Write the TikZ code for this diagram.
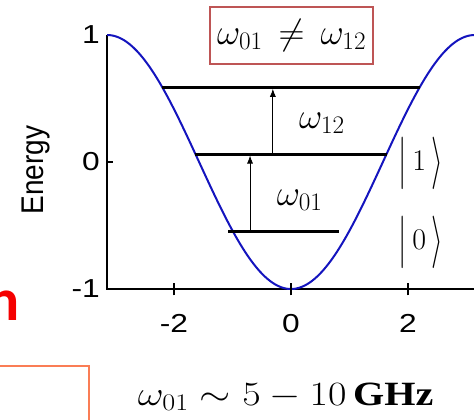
\RequirePackage{fix-cm}
\documentclass[tikz,border=0pt]{standalone}
\usepackage{fontspec}
\usepackage{graphicx}
\setmainfont{Liberation Serif}
\newfontfamily\axisfont{Liberation Sans}
\newfontfamily\slidefont{Carlito}
\usetikzlibrary{arrows.meta}
\definecolor{WellBlue}{RGB}{20,20,190}
\definecolor{BoxRed}{RGB}{190,85,85}
\definecolor{SlideRed}{RGB}{245,0,0}
\definecolor{SlideOrange}{RGB}{250,125,85}
\newcommand{\wide}[1]{\scalebox{1.22}[1]{#1}}
\newcommand{\tall}[1]{\vcenter{\hbox{\scalebox{1}[1.75]{$#1$}}}}
\newcommand{\ketbox}[1]{$\tall{|}\,#1\,\tall{\rangle}$}
\tikzset{
  well/.style={draw=WellBlue,line width=2pt},
  axis/.style={draw=black,line width=2.2pt},
  level/.style={draw=black,line width=3pt},
  trans/.style={draw=black,line width=0.8pt,-{Latex[length=8pt,width=6pt]},shorten >=1.5pt},
  ticklab/.style={font=\axisfont\fontsize{26}{26}\selectfont,inner sep=0pt},
  freqlab/.style={font=\fontsize{36}{36}\selectfont,inner sep=0pt},
  ket/.style={font=\fontsize{30}{30}\selectfont,inner sep=0pt},
  note/.style={draw=BoxRed,line width=1.2pt,minimum width=163pt,minimum height=57pt,
    font=\fontsize{36}{36}\selectfont,inner sep=0pt},
}

\begin{document}
\begin{tikzpicture}[x=58.5pt,y=127pt]
\useasboundingbox (-4.974,-2.0236) rectangle (3.128,1.2756);
\coordinate (o) at (-pi,-1);
\coordinate (ytop) at (-pi,1);
\coordinate (xend) at (3.4,-1);
\draw[axis] (ytop) -- (o) -- (xend);
\draw[well] plot[domain=-pi:pi,samples=150] (\x,{-cos(\x r)});
\foreach \t/\n in {-2/a,0/b,2/c} {
  \draw[axis,line width=1.8pt] (\t,-1.05) -- (\t,-0.95);
  \node[ticklab] (x\n) at (\t,-1.268) {\wide{\t}};
}
\draw[axis,line width=1.8pt] (-pi,0) -- (-3.04,0);
\node[ticklab,anchor=east] (ya) at (-3.265,1) {\wide{1}};
\node[ticklab,anchor=east] (yb) at (-3.265,0) {\wide{0}};
\node[ticklab,anchor=east] (yc) at (-3.265,-1) {\wide{-1}};
\node[font=\axisfont\fontsize{28}{28}\selectfont,rotate=90] (elab) at (-4.36,-0.063) {\scalebox{1}[1.12]{Energy}};
% levels
\coordinate (l2a) at (-2.2,0.5885);
\coordinate (l2b) at (2.2,0.5885);
\coordinate (l1a) at (-1.634,0.063);
\coordinate (l1b) at (1.634,0.063);
\coordinate (l0a) at (-1.07,-0.55);
\coordinate (l0b) at (0.82,-0.55);
\draw[level] (l2a) -- (l2b);
\draw[level] (l1a) -- (l1b);
\draw[level] (l0a) -- (l0b);
% transitions
\coordinate (t01s) at (-0.70,-0.55);
\coordinate (t01e) at (-0.70,0.063);
\coordinate (t12s) at (-0.31,0.063);
\coordinate (t12e) at (-0.31,0.5885);
\draw[trans] (t01s) -- (t01e);
\draw[trans] (t12s) -- (t12e);
\node[freqlab] (w12) at (0.53,0.307) {$\omega_{12}$};
\node[freqlab] (w01) at (0.15,-0.30) {$\omega_{01}$};
\node[ket] (k1) at (2.22,-0.008) {\ketbox{1}};
\node[ket] (k0) at (2.22,-0.63) {\ketbox{0}};
\node[note] (neq) at (0.01,0.996) {$\omega_{01}\,\neq\,\omega_{12}$};
% slide leftovers
\node[font=\slidefont\bfseries\fontsize{60}{60}\selectfont,text=SlideRed,anchor=base east,inner sep=0pt] (cut) at (-4.632,-1.244) {n};
\draw[draw=SlideOrange,line width=1.2pt] (-5.2,-1.606) -| (-3.453,-2.2);
\node[font=\fontsize{34}{34}\selectfont,inner sep=0pt] (range) at (-0.09,-1.85) {\scalebox{1.18}[1]{$\omega_{01}\sim 5-10\,\textbf{GHz}$}};
\end{tikzpicture}
\end{document}
